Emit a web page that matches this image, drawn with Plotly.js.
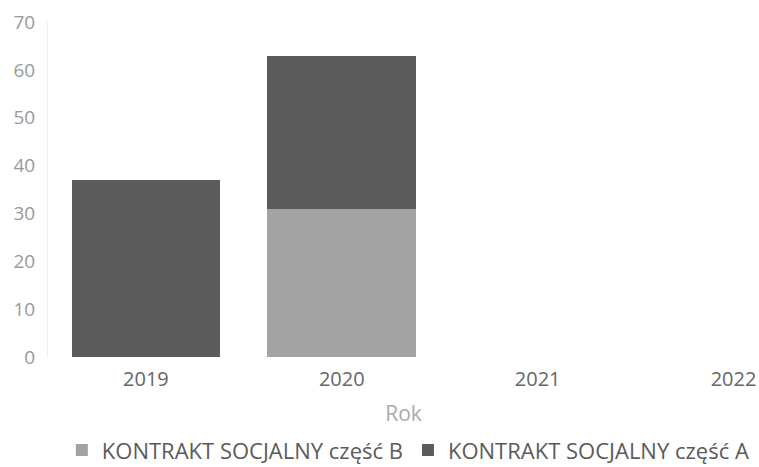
<!DOCTYPE html>
<html>
<head>
<meta charset="utf-8">
<script src="https://cdn.plot.ly/plotly-3.0.1.min.js"></script>
<style>html,body{margin:0;padding:0;background:#fff;}#chart{width:759px;height:467px;}</style>
</head>
<body>
<div id="chart"></div>
<script>
const years = ["2019", "2020", "2021", "2022"];
const partB = [0, 31, 0, 0];
const partA = [37, 32, 0, 0];
const nameB = "KONTRAKT SOCJALNY część B";
const nameA = "KONTRAKT SOCJALNY część A";

const traces = [
  {type: "bar", x: years, y: partB, name: nameB, marker: {color: "#a3a3a3"}, hoverinfo: "none"},
  {type: "bar", x: years, y: partA, name: nameA, marker: {color: "#5c5c5c"}, hoverinfo: "none"}
];

const layout = {
  width: 759, height: 467,
  margin: {l: 48, r: 0, t: 22, b: 110},
  barmode: "stack",
  bargap: 0.24,
  paper_bgcolor: "#fff", plot_bgcolor: "#fff",
  font: {family: "Open Sans, Lato, sans-serif", color: "#999"},
  xaxis: {
    type: "category",
    range: [-0.5, 3.13],
    automargin: false,
    showgrid: false, zeroline: false, showline: false,
    ticks: "",
    tickfont: {size: 20, color: "#666"},
    ticklabelstandoff: 8,
    title: {text: "Rok", font: {size: 21, color: "#aaa"}, standoff: 15}
  },
  yaxis: {
    range: [0, 70], dtick: 10,
    automargin: false,
    showgrid: false, zeroline: false,
    showline: true, linecolor: "#eeeeee", linewidth: 1,
    ticks: "",
    tickfont: {size: 19, color: "#999"},
    ticklabelstandoff: 8
  },
  showlegend: true,
  legend: {
    orientation: "h", xref: "container", x: 0.538, xanchor: "center",
    yref: "container", y: 0.036, yanchor: "middle",
    font: {size: 22, color: "#5a5a5a"}, traceorder: "normal",
    itemwidth: 30
  }
};

Plotly.newPlot("chart", traces, layout, {displayModeBar: false, staticPlot: true});
</script>
</body>
</html>
